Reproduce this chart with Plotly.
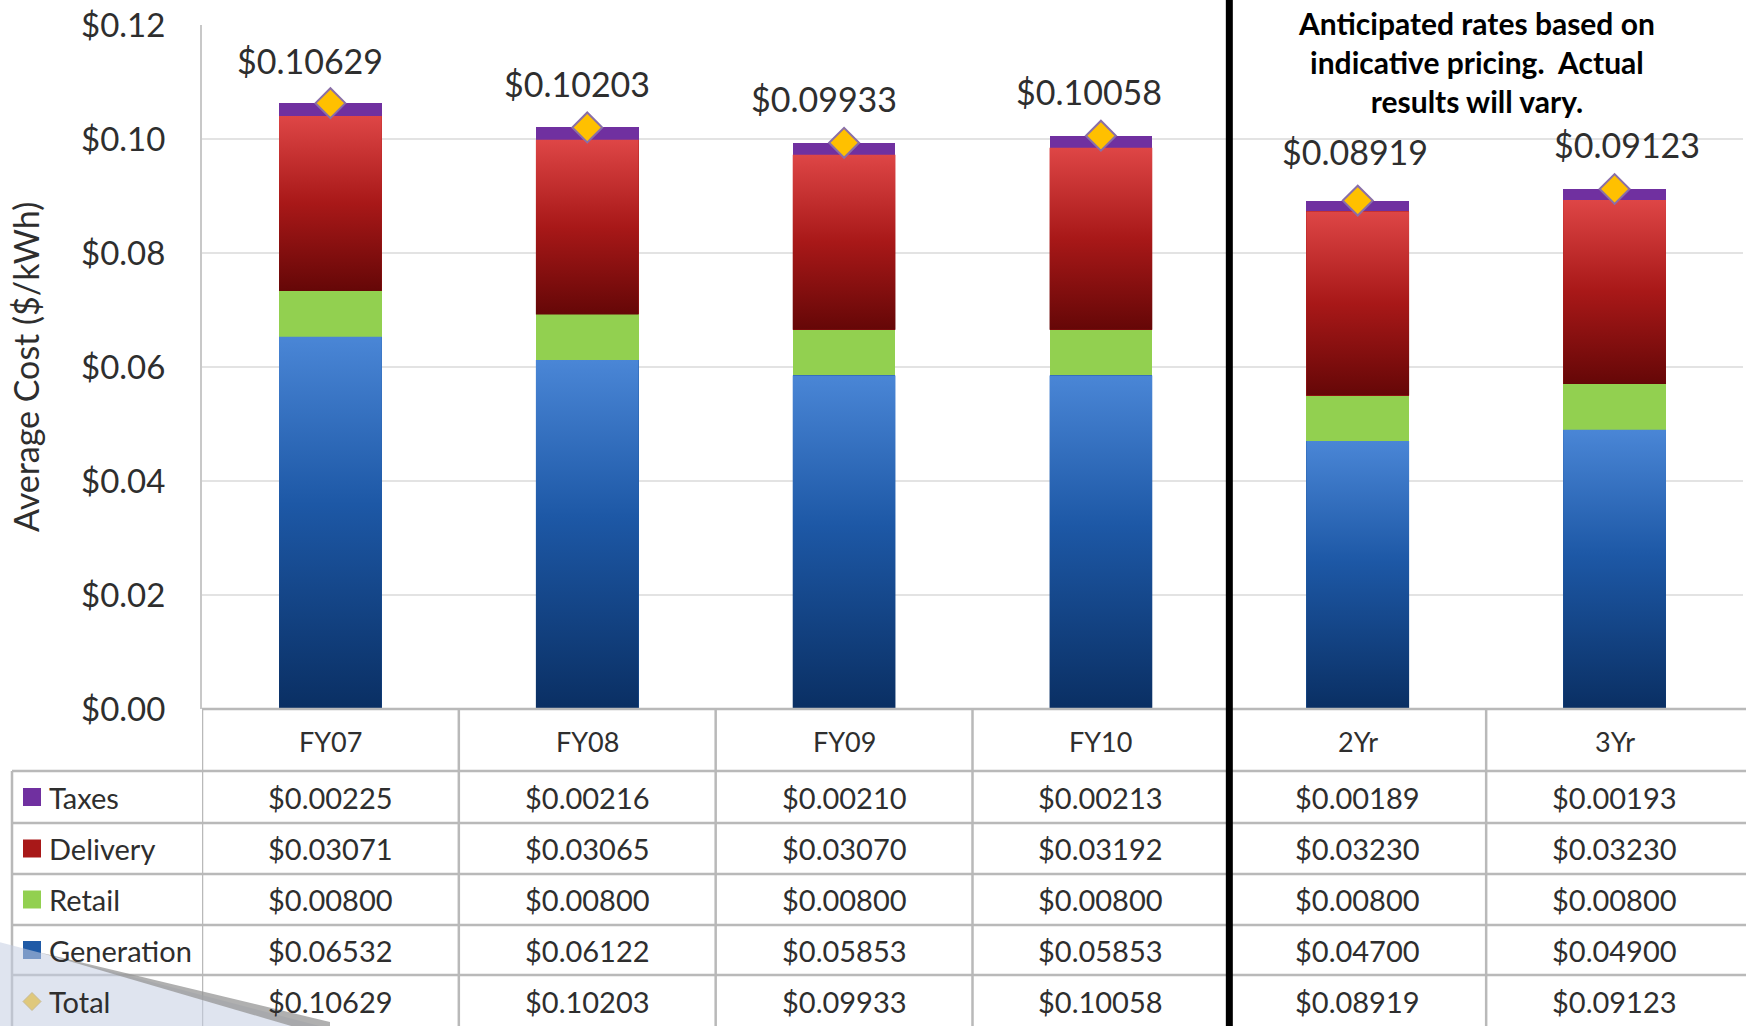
import plotly.graph_objects as go

# ---- data -------------------------------------------------------------
categories = ["FY07", "FY08", "FY09", "FY10", "2Yr", "3Yr"]
generation = [0.06532, 0.06122, 0.05853, 0.05853, 0.04700, 0.04900]
retail = [0.00800, 0.00800, 0.00800, 0.00800, 0.00800, 0.00800]
delivery = [0.03071, 0.03065, 0.03070, 0.03192, 0.03230, 0.03230]
taxes = [0.00225, 0.00216, 0.00210, 0.00213, 0.00189, 0.00193]
totals = [0.10629, 0.10203, 0.09933, 0.10058, 0.08919, 0.09123]
y_ticks = [0.00, 0.02, 0.04, 0.06, 0.08, 0.10, 0.12]

# ---- page geometry ----------------------------------------------------
W, H = 1746, 1026
ML, MR, MT, MB = 202, 3, 25, 317
PW, PH = W - ML - MR, H - MT - MB
FONT = "Lato"
TXT = "#2e2e2e"
BAR_W = 0.4
# nudges (px) of each total label relative to its diamond
label_dx = [-20, -10, -20, -12, -3, 12]
label_dy = [43, 44, 44, 44, 49, 44]


def fx(px):
    return (px - ML) / PW


def fy(py):
    return (H - MB - py) / PH


xpos = list(range(len(categories)))

colors = {
    "Generation": "#1f5aa6",
    "Retail": "#92d050",
    "Delivery": "#b01c1c",
    "Taxes": "#7030a0",
}
gradients = {
    "Generation": [[0, "#0a2f63"], [0.55, "#1d58a6"], [1, "#4a86d6"]],
    "Delivery": [[0, "#650707"], [0.5, "#a81818"], [1, "#de4646"]],
}
stack = [("Generation", generation), ("Retail", retail),
         ("Delivery", delivery), ("Taxes", taxes)]

fig = go.Figure()

# stacked bars
for name, vals in stack:
    fig.add_trace(go.Bar(
        x=xpos, y=vals, name=name, width=BAR_W,
        marker=dict(color=colors[name], line=dict(width=0)),
        showlegend=False,
    ))

# vertical shading on the generation and delivery segments
base = [0.0] * len(categories)
for name, vals in stack:
    if name in gradients:
        for i, v in enumerate(vals):
            x0, x1 = xpos[i] - BAR_W / 2, xpos[i] + BAR_W / 2
            y0, y1 = base[i], base[i] + v
            fig.add_trace(go.Scatter(
                x=[x0, x1, x1, x0, x0], y=[y0, y0, y1, y1, y0],
                mode="lines", line=dict(width=0), fill="toself",
                fillgradient=dict(type="vertical", colorscale=gradients[name]),
                hoverinfo="skip", showlegend=False,
            ))
    base = [b + v for b, v in zip(base, vals)]

# totals as diamonds
fig.add_trace(go.Scatter(
    x=xpos, y=totals, mode="markers", name="Total",
    marker=dict(symbol="diamond", size=23, color="#ffc000",
                line=dict(color="#8a6fa8", width=2)),
    showlegend=False,
))

annotations = []
for i, v in enumerate(totals):
    annotations.append(dict(
        x=xpos[i], y=v, xref="x", yref="y", text=f"${v:.5f}",
        showarrow=False, yshift=label_dy[i], xshift=label_dx[i],
        xanchor="center", yanchor="middle",
        font=dict(family=FONT, size=34, color=TXT),
    ))

# ---- data table under the plot ---------------------------------------
grid = "#b9b9b9"
shapes = []
row_edges = [709, 771, 823, 874, 925, 975, 1028]
table_right = W + 5

shapes.append(dict(type="line", xref="paper", yref="paper",
                   x0=fx(ML), x1=fx(table_right), y0=fy(709), y1=fy(709),
                   line=dict(color=grid, width=2.5)))
for yy in row_edges[1:-1]:
    shapes.append(dict(type="line", xref="paper", yref="paper",
                       x0=fx(12), x1=fx(table_right), y0=fy(yy), y1=fy(yy),
                       line=dict(color=grid, width=2.5)))
shapes.append(dict(type="line", xref="paper", yref="paper",
                   x0=fx(12), x1=fx(12), y0=fy(771), y1=fy(1030),
                   line=dict(color=grid, width=2.5)))
for k in range(len(categories)):
    xb = k - 0.5
    shapes.append(dict(type="line", xref="x", yref="paper",
                       x0=xb, x1=xb, y0=fy(709), y1=fy(1030),
                       line=dict(color=grid, width=2.5)))

# header labels
for i, c in enumerate(categories):
    annotations.append(dict(
        x=xpos[i], y=fy(741), xref="x", yref="paper", text=c,
        xanchor="center", yanchor="middle", showarrow=False,
        font=dict(family=FONT, size=27, color=TXT),
    ))

rows = [("Taxes", taxes), ("Delivery", delivery), ("Retail", retail),
        ("Generation", generation), ("Total", totals)]
swatch = {"Taxes": "#7030a0", "Delivery": "#a81818",
          "Retail": "#92d050", "Generation": "#1f5aa6"}
for r, (label, vals) in enumerate(rows):
    cy = (row_edges[r + 1] + row_edges[r + 2]) / 2
    annotations.append(dict(
        x=fx(47), y=fy(cy), xref="paper", yref="paper", text=label,
        xanchor="left", yanchor="middle", showarrow=False,
        font=dict(family=FONT, size=29, color=TXT),
    ))
    if label in swatch:
        shapes.append(dict(type="rect", xref="paper", yref="paper",
                           x0=fx(23), x1=fx(41), y0=fy(cy - 9), y1=fy(cy + 9),
                           fillcolor=swatch[label], line=dict(width=0)))
    else:
        path = (f"M {fx(23)} {fy(cy)} L {fx(32)} {fy(cy - 9)} "
                f"L {fx(41)} {fy(cy)} L {fx(32)} {fy(cy + 9)} Z")
        shapes.append(dict(type="path", xref="paper", yref="paper", path=path,
                           fillcolor="#ffc000", line=dict(color="#c9a23a", width=1)))
    for i, v in enumerate(vals):
        annotations.append(dict(
            x=xpos[i], y=fy(cy), xref="x", yref="paper", text=f"${v:.5f}",
            xanchor="center", yanchor="middle", showarrow=False,
            font=dict(family=FONT, size=29, color=TXT),
        ))

# divider between historical and anticipated columns
shapes.append(dict(type="line", xref="x", yref="paper", x0=3.5, x1=3.5,
                   y0=fy(-5), y1=fy(1031), line=dict(color="#000000", width=7)))

# slide corner decoration
tri = (f"M {fx(-5)} {fy(941)} L {fx(335)} {fy(1030)} L {fx(-5)} {fy(1030)} Z")
shapes.append(dict(type="path", xref="paper", yref="paper", path=tri,
                   fillcolor="rgba(196,206,226,0.55)", line=dict(width=0)))
band = (f"M {fx(38)} {fy(952)} L {fx(330)} {fy(1022)} L {fx(330)} {fy(1030)} "
        f"L {fx(305)} {fy(1030)} Z")
shapes.append(dict(type="path", xref="paper", yref="paper", path=band,
                   fillcolor="rgba(150,150,150,0.75)", line=dict(width=0)))

# note about anticipated rates
annotations.append(dict(
    x=fx(1476), y=fy(62), xref="paper", yref="paper",
    xanchor="center", yanchor="middle",
    text="<b>Anticipated rates based on<br>indicative pricing.  Actual<br>results will vary.</b>",
    showarrow=False, align="center", bgcolor="#ffffff", borderpad=4,
    font=dict(family=FONT, size=30, color="#000000"),
))

# y-axis title
annotations.append(dict(
    x=fx(25), y=fy(367), xref="paper", yref="paper",
    xanchor="center", yanchor="middle",
    text="Average Cost ($/kWh)", textangle=-90, showarrow=False,
    font=dict(family=FONT, size=34, color=TXT),
))

fig.update_layout(
    width=W, height=H,
    margin=dict(l=ML, r=MR, t=MT, b=MB, pad=0),
    paper_bgcolor="#ffffff", plot_bgcolor="#ffffff",
    barmode="stack", bargap=0,
    font=dict(family=FONT, color=TXT),
    xaxis=dict(range=[-0.5, len(categories) - 0.5], showgrid=False,
               zeroline=False, showticklabels=False, showline=False,
               fixedrange=True),
    yaxis=dict(range=[0, 0.12], tickvals=y_ticks, tickformat="$.2f",
               tickfont=dict(family=FONT, size=33, color=TXT),
               ticks="outside", ticklen=28, tickcolor="rgba(0,0,0,0)",
               showgrid=True, gridcolor="#e3e3e3", gridwidth=2,
               zeroline=False, showline=True, linecolor="#c8c8c8",
               linewidth=2, fixedrange=True),
    shapes=shapes,
    annotations=annotations,
    showlegend=False,
)

fig.write_html("out.html")
